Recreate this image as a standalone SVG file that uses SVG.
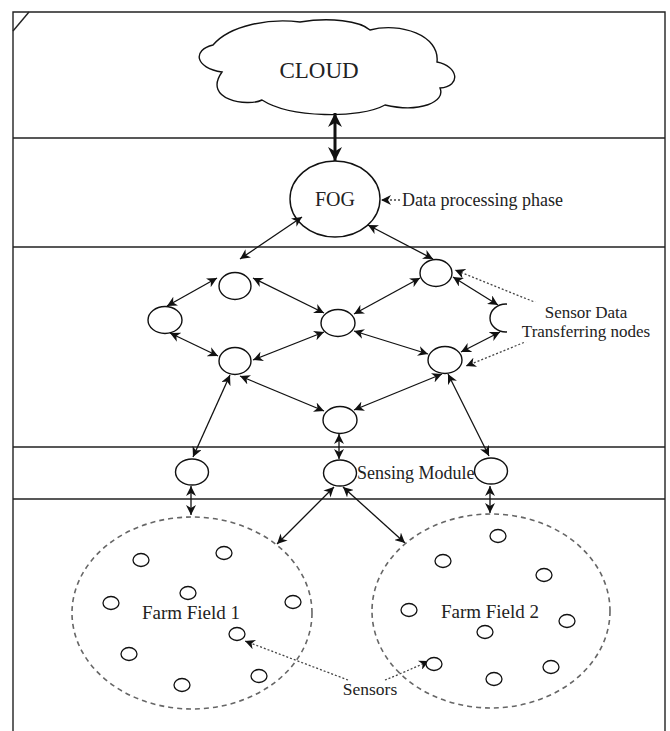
<svg xmlns="http://www.w3.org/2000/svg" width="670" height="731" viewBox="0 0 670 731">
<style>
.frame{fill:none;stroke:#222;stroke-width:1.4}
.node{fill:#fff;stroke:#111;stroke-width:1.4}
.sensor{fill:#fff;stroke:#111;stroke-width:1.3}
.field{fill:none;stroke:#666;stroke-width:1.6;stroke-dasharray:5 4}
.conn{stroke:#111;stroke-width:1.3;fill:none;marker-start:url(#ah);marker-end:url(#ah)}
.thick{stroke:#111;stroke-width:3;fill:none;marker-start:url(#ahb);marker-end:url(#ahb)}
.dot{stroke:#444;stroke-width:1.3;stroke-dasharray:2 2;fill:none;marker-end:url(#ah)}
.t{font-family:'Liberation Serif','Times New Roman','DejaVu Serif',serif;fill:#222}
</style>
<defs>
<marker id="ah" viewBox="0 0 10 10" refX="10" refY="5" markerWidth="10" markerHeight="10" markerUnits="userSpaceOnUse" orient="auto-start-reverse">
<path d="M0,0 L10,5 L0,10 L3,5 Z" fill="#111"/>
</marker>
<marker id="ahb" viewBox="0 0 10 10" refX="10" refY="5" markerWidth="14" markerHeight="14" markerUnits="userSpaceOnUse" orient="auto-start-reverse">
<path d="M0,0 L10,5 L0,10 L3,5 Z" fill="#111"/>
</marker>
</defs>
<rect width="670" height="731" fill="#fff"/>
<g id="frame">
<path class="frame" d="M13,731 V12 H665 V731"/>
<path class="frame" d="M13,138 H665 M13,247 H665 M13,447 H665 M13,499 H665"/>
<path class="frame" d="M29,12 L13,31"/>
</g>
<g id="cloud">
<path class="node" d="M213,45 C230,25 270,18 300,22 C330,17 360,21 370,30 C400,22 440,35 437,62 C458,66 462,86 440,88 C446,102 420,113 385,105 C360,119 290,118 262,100 C248,107 202,100 222,72 C195,68 192,50 213,45 Z"/>
<text class="t" font-family="Liberation Serif, serif" x="319" y="78" font-size="23" text-anchor="middle">CLOUD</text>
</g>
<g id="fog">
<ellipse class="node" cx="335" cy="199" rx="45" ry="38"/>
<text class="t" font-family="Liberation Serif, serif" x="335" y="206" font-size="20" text-anchor="middle">FOG</text>
<text class="t" font-family="Liberation Serif, serif" x="402" y="206" font-size="18">Data processing phase</text>
</g>
<g id="connectors">
<line class="thick" x1="335" y1="113" x2="335" y2="161"/>
<line class="conn" x1="302" y1="217" x2="240" y2="259"/>
<line class="conn" x1="368" y1="225" x2="433" y2="259"/>
<line class="conn" x1="217" y1="278" x2="167" y2="306"/>
<line class="conn" x1="253" y1="278" x2="324" y2="313"/>
<line class="conn" x1="420" y1="278" x2="354" y2="314"/>
<line class="conn" x1="453" y1="277" x2="498" y2="305"/>
<line class="conn" x1="170" y1="333" x2="218" y2="356"/>
<line class="conn" x1="324" y1="332" x2="253" y2="360"/>
<line class="conn" x1="354" y1="331" x2="428" y2="354"/>
<line class="conn" x1="500" y1="332" x2="461" y2="352"/>
<line class="conn" x1="240" y1="376" x2="324" y2="411"/>
<line class="conn" x1="442" y1="374" x2="354" y2="410"/>
<line class="conn" x1="230" y1="375" x2="193" y2="457"/>
<line class="conn" x1="339" y1="434" x2="339" y2="459"/>
<line class="conn" x1="448" y1="374" x2="489" y2="456"/>
<line class="conn" x1="191" y1="486" x2="191" y2="515"/>
<line class="conn" x1="490" y1="486" x2="490" y2="513"/>
<line class="conn" x1="334" y1="487" x2="277" y2="544"/>
<line class="conn" x1="343" y1="487" x2="405" y2="543"/>
<line class="dot" x1="400" y1="200" x2="381" y2="200"/>
<line class="dot" x1="537" y1="303" x2="455" y2="270"/>
<line class="dot" x1="535" y1="338" x2="466" y2="366"/>
<line class="dot" x1="348" y1="680" x2="245" y2="641"/>
<path class="dot" d="M385,680 Q405,672 429,661"/>
</g>
<g id="node-a"><ellipse class="node" cx="235" cy="286" rx="16" ry="13.5"/></g>
<g id="node-b"><ellipse class="node" cx="436" cy="273" rx="16" ry="13.5"/></g>
<g id="node-c"><ellipse class="node" cx="165" cy="320" rx="17" ry="13.5"/></g>
<g id="node-d"><ellipse class="node" cx="338" cy="323" rx="17" ry="13.5"/></g>
<g id="node-e"><ellipse class="node" cx="506" cy="318" rx="16" ry="14"/></g>
<g id="node-f"><ellipse class="node" cx="235" cy="361" rx="16" ry="13.5"/></g>
<g id="node-g"><ellipse class="node" cx="445" cy="360" rx="17" ry="13.5"/></g>
<g id="node-h"><ellipse class="node" cx="340" cy="420" rx="17" ry="13.5"/></g>
<g id="label-transfer">
<rect x="507" y="302" width="150" height="40" fill="#fff"/>
<text class="t" font-family="Liberation Serif, serif" x="586" y="318" font-size="17" text-anchor="middle">Sensor Data</text>
<text class="t" font-family="Liberation Serif, serif" x="586" y="337" font-size="17" text-anchor="middle">Transferring nodes</text>
</g>
<g id="sensing-1"><ellipse class="node" cx="192" cy="472" rx="16.5" ry="13"/></g>
<g id="sensing-2"><ellipse class="node" cx="340" cy="473" rx="16.5" ry="13"/></g>
<g id="sensing-3"><ellipse class="node" cx="491" cy="471" rx="16.5" ry="13"/></g>
<g id="sensing-label"><text class="t" font-family="Liberation Serif, serif" x="357" y="479" font-size="18">Sensing Module</text></g>
<g id="field-1">
<ellipse class="field" cx="192" cy="613" rx="120" ry="96"/>
<text class="t" font-family="Liberation Serif, serif" x="191" y="619" font-size="19" text-anchor="middle">Farm Field 1</text>
<ellipse class="sensor" cx="141" cy="560" rx="8" ry="6.5"/>
<ellipse class="sensor" cx="224" cy="553" rx="8" ry="6.5"/>
<ellipse class="sensor" cx="188" cy="593" rx="8" ry="6.5"/>
<ellipse class="sensor" cx="111" cy="603" rx="8" ry="6.5"/>
<ellipse class="sensor" cx="293" cy="602" rx="8" ry="6.5"/>
<ellipse class="sensor" cx="237" cy="634" rx="8" ry="6.5"/>
<ellipse class="sensor" cx="129" cy="654" rx="8" ry="6.5"/>
<ellipse class="sensor" cx="182" cy="685" rx="8" ry="6.5"/>
<ellipse class="sensor" cx="259" cy="676" rx="8" ry="6.5"/>
</g>
<g id="field-2">
<ellipse class="field" cx="491" cy="611" rx="119" ry="97"/>
<text class="t" font-family="Liberation Serif, serif" x="490" y="618" font-size="19" text-anchor="middle">Farm Field 2</text>
<ellipse class="sensor" cx="498" cy="536" rx="8" ry="6.5"/>
<ellipse class="sensor" cx="443" cy="561" rx="8" ry="6.5"/>
<ellipse class="sensor" cx="544" cy="575" rx="8" ry="6.5"/>
<ellipse class="sensor" cx="409" cy="610" rx="8" ry="6.5"/>
<ellipse class="sensor" cx="567" cy="621" rx="8" ry="6.5"/>
<ellipse class="sensor" cx="485" cy="632" rx="8" ry="6.5"/>
<ellipse class="sensor" cx="434" cy="664" rx="8" ry="6.5"/>
<ellipse class="sensor" cx="551" cy="667" rx="8" ry="6.5"/>
<ellipse class="sensor" cx="494" cy="679" rx="8" ry="6.5"/>
</g>
<g id="sensors-label"><text class="t" font-family="Liberation Serif, serif" x="370" y="695" font-size="17.5" text-anchor="middle">Sensors</text></g>
</svg>
